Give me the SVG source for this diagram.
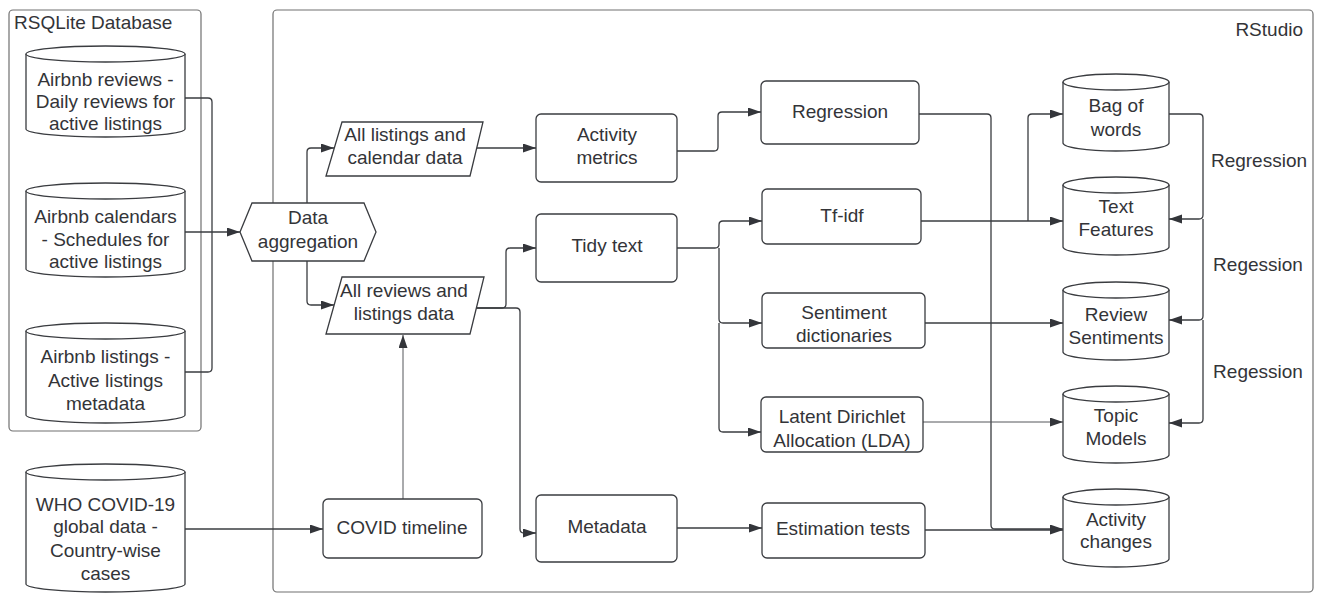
<svg xmlns="http://www.w3.org/2000/svg" width="1323" height="605" viewBox="0 0 1323 605">
<defs>
<style>
text{font-family:"Liberation Sans",Arial,sans-serif;font-size:19px;fill:#333438;text-anchor:middle}
.container{fill:none;stroke:#707070;stroke-width:1.2}
.box{fill:#fff;stroke:#3a3c40;stroke-width:1.3}
.conn{fill:none;stroke:#3a3c40;stroke-width:1.3}
.thin{fill:none;stroke:#55575b;stroke-width:1}
</style>
<marker id="arr" markerUnits="userSpaceOnUse" markerWidth="14" markerHeight="10" refX="13" refY="4.5" orient="auto">
<path d="M0,0 L13,4.5 L0,9 Z" fill="#33353a"/>
</marker>
</defs>
<rect width="1323" height="605" fill="#fff"/>

<g id="rsqlite-container">
<rect class="container" x="9" y="10" width="192" height="421" rx="4"/>
<text x="14" y="29" style="text-anchor:start">RSQLite Database</text>
</g>
<g id="rstudio-container">
<rect class="container" x="273" y="10" width="1040" height="582" rx="4"/>
<text x="1303" y="36" style="text-anchor:end">RStudio</text>
</g>

<g id="connectors">
<path class="conn" d="M185,98 H208 Q212,98 212,102 V232"/>
<path class="conn" d="M185,232 H240" marker-end="url(#arr)"/>
<path class="conn" d="M185,372 H208 Q212,372 212,368 V232"/>
<path class="conn" d="M307,203 V152 Q307,148 311,148 H334" marker-end="url(#arr)"/>
<path class="conn" d="M307,261 V301 Q307,305 311,305 H334" marker-end="url(#arr)"/>
<path class="conn" d="M477,148 H536" marker-end="url(#arr)"/>
<path class="conn" d="M677,151 H714 Q718,151 718,147 V116 Q718,112 722,112 H761" marker-end="url(#arr)"/>
<path class="conn" d="M476,308 H502 Q506,308 506,304 V252 Q506,248 510,248 H536" marker-end="url(#arr)"/>
<path class="conn" d="M476,308 H516 Q520,308 520,312 V529 Q520,533 524,533 H536" marker-end="url(#arr)"/>
<path class="thin" d="M403,499 V335" marker-end="url(#arr)"/>
<path class="conn" d="M185,529 H323" marker-end="url(#arr)"/>
<path class="conn" d="M677,248 H715 Q719,248 719,244 V225 Q719,221 723,221 H762" marker-end="url(#arr)"/>
<path class="conn" d="M719,248 V319 Q719,323 723,323 H762" marker-end="url(#arr)"/>
<path class="conn" d="M719,323 V428 Q719,432 723,432 H761" marker-end="url(#arr)"/>
<path class="conn" d="M677,528 H762" marker-end="url(#arr)"/>
<path class="conn" d="M919,114 H987 Q991,114 991,118 V525 Q991,529 995,529 H1063" marker-end="url(#arr)"/>
<path class="conn" d="M925,530 H1063" marker-end="url(#arr)"/>
<path class="conn" d="M921,221 H1063" marker-end="url(#arr)"/>
<path class="conn" d="M1028,221 V118 Q1028,114 1032,114 H1063" marker-end="url(#arr)"/>
<path class="conn" d="M925,323 H1063" marker-end="url(#arr)"/>
<path class="thin" d="M923,422 H1063" marker-end="url(#arr)"/>
<path class="conn" d="M1169,114 H1199 Q1203,114 1203,118 V215 Q1203,219 1199,219 H1169" marker-end="url(#arr)"/>
<path class="conn" d="M1203,219 V316 Q1203,320 1199,320 H1169" marker-end="url(#arr)"/>
<path class="conn" d="M1203,320 V419 Q1203,423 1199,423 H1169" marker-end="url(#arr)"/>
<text x="1259" y="167">Regression</text>
<text x="1258" y="271">Regession</text>
<text x="1258" y="378">Regession</text>
</g>

<g id="airbnb-reviews">
<path class="box" d="M26,54 A79.5,8 0 0 1 185,54 V129 A79.5,8 0 0 1 26,129 Z"/>
<path class="box" d="M26,54 A79.5,8 0 0 0 185,54"/>
<text x="105.5" y="86">Airbnb reviews -</text>
<text x="105.5" y="108">Daily reviews for</text>
<text x="105.5" y="130">active listings</text>
</g>
<g id="airbnb-calendars">
<path class="box" d="M26,191 A79.5,8 0 0 1 185,191 V269 A79.5,8 0 0 1 26,269 Z"/>
<path class="box" d="M26,191 A79.5,8 0 0 0 185,191"/>
<text x="105.5" y="223">Airbnb calendars</text>
<text x="105.5" y="246">-  Schedules for</text>
<text x="105.5" y="268">active listings</text>
</g>
<g id="airbnb-listings">
<path class="box" d="M26,331 A79.5,8 0 0 1 185,331 V415 A79.5,8 0 0 1 26,415 Z"/>
<path class="box" d="M26,331 A79.5,8 0 0 0 185,331"/>
<text x="105.5" y="363">Airbnb listings -</text>
<text x="105.5" y="387">Active listings</text>
<text x="105.5" y="410">metadata</text>
</g>
<g id="who-covid">
<path class="box" d="M26,472 A79.5,8 0 0 1 185,472 V584 A79.5,8 0 0 1 26,584 Z"/>
<path class="box" d="M26,472 A79.5,8 0 0 0 185,472"/>
<text x="105.5" y="511">WHO COVID-19</text>
<text x="105.5" y="533">global data -</text>
<text x="105.5" y="557">Country-wise</text>
<text x="105.5" y="580">cases</text>
</g>

<g id="data-aggregation">
<path class="box" d="M240,232 L252,203 H364 L376,232 L364,261 H252 Z"/>
<text x="308" y="224">Data</text>
<text x="308" y="248">aggregation</text>
</g>
<g id="all-listings-calendar">
<path class="box" d="M342,122 H483 L470,176 H326 Z"/>
<text x="405" y="141">All listings and</text>
<text x="405" y="164">calendar data</text>
</g>
<g id="all-reviews-listings">
<path class="box" d="M342,277 H484 L470,334 H326 Z"/>
<text x="404" y="297">All reviews and</text>
<text x="404" y="320">listings data</text>
</g>
<g id="covid-timeline">
<rect class="box" x="323" y="499" width="159" height="59" rx="5"/>
<text x="402" y="534">COVID timeline</text>
</g>
<g id="activity-metrics">
<rect class="box" x="536" y="114" width="141" height="68" rx="5"/>
<text x="607" y="141">Activity</text>
<text x="607" y="164">metrics</text>
</g>
<g id="tidy-text">
<rect class="box" x="536" y="214" width="141" height="68" rx="5"/>
<text x="607" y="252">Tidy text</text>
</g>
<g id="metadata">
<rect class="box" x="536" y="495" width="141" height="67" rx="5"/>
<text x="607" y="533">Metadata</text>
</g>
<g id="regression">
<rect class="box" x="761" y="81" width="158" height="63" rx="5"/>
<text x="840" y="118">Regression</text>
</g>
<g id="tf-idf">
<rect class="box" x="762" y="189" width="159" height="55" rx="5"/>
<text x="842" y="222">Tf-idf</text>
</g>
<g id="sentiment-dictionaries">
<rect class="box" x="762" y="293" width="163" height="55" rx="5"/>
<text x="844" y="319">Sentiment</text>
<text x="844" y="342">dictionaries</text>
</g>
<g id="lda">
<rect class="box" x="761" y="397" width="162" height="55" rx="5"/>
<text x="842" y="423">Latent Dirichlet</text>
<text x="842" y="447">Allocation (LDA)</text>
</g>
<g id="estimation-tests">
<rect class="box" x="762" y="503" width="163" height="55" rx="5"/>
<text x="843" y="535">Estimation tests</text>
</g>

<g id="bag-of-words">
<path class="box" d="M1063,82 A53,8 0 0 1 1169,82 V143 A53,8 0 0 1 1063,143 Z"/>
<path class="box" d="M1063,82 A53,8 0 0 0 1169,82"/>
<text x="1116" y="112">Bag of</text>
<text x="1116" y="136">words</text>
</g>
<g id="text-features">
<path class="box" d="M1063,185 A53,8 0 0 1 1169,185 V247 A53,8 0 0 1 1063,247 Z"/>
<path class="box" d="M1063,185 A53,8 0 0 0 1169,185"/>
<text x="1116" y="213">Text</text>
<text x="1116" y="236">Features</text>
</g>
<g id="review-sentiments">
<path class="box" d="M1063,290 A53,8 0 0 1 1169,290 V352 A53,8 0 0 1 1063,352 Z"/>
<path class="box" d="M1063,290 A53,8 0 0 0 1169,290"/>
<text x="1116" y="321">Review</text>
<text x="1116" y="344">Sentiments</text>
</g>
<g id="topic-models">
<path class="box" d="M1063,394 A53,8 0 0 1 1169,394 V455 A53,8 0 0 1 1063,455 Z"/>
<path class="box" d="M1063,394 A53,8 0 0 0 1169,394"/>
<text x="1116" y="422">Topic</text>
<text x="1116" y="445">Models</text>
</g>
<g id="activity-changes">
<path class="box" d="M1063,497 A53,8 0 0 1 1169,497 V559 A53,8 0 0 1 1063,559 Z"/>
<path class="box" d="M1063,497 A53,8 0 0 0 1169,497"/>
<text x="1116" y="526">Activity</text>
<text x="1116" y="548">changes</text>
</g>
</svg>
